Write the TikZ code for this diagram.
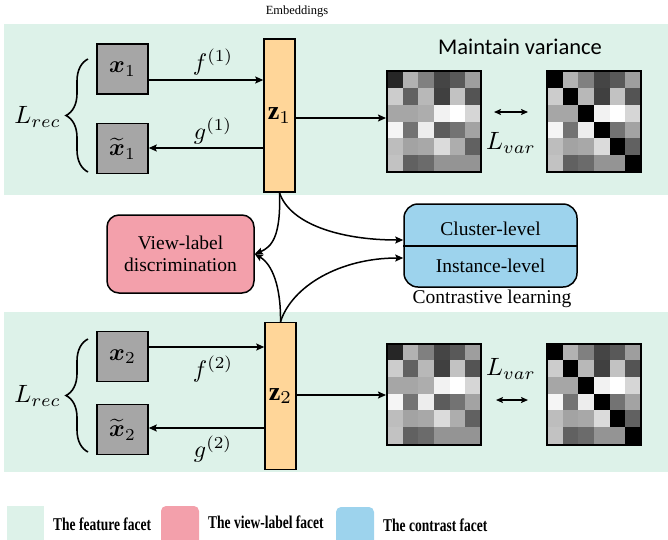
\documentclass[tikz,border=0pt]{standalone}
\usepackage{amsmath}
\usepackage{fontspec}
\setmainfont{Liberation Serif}
\newfontfamily\calfont{Carlito}
\usetikzlibrary{arrows.meta,decorations.pathreplacing}

\definecolor{featgreen}{RGB}{221,242,233}
\definecolor{viewpink}{RGB}{243,160,171}
\definecolor{contrblue}{RGB}{157,211,237}
\definecolor{zorange}{RGB}{255,214,153}
\definecolor{xgray}{RGB}{166,166,166}

\newcommand\fsz[2]{\fontsize{#1}{#2}\selectfont}
% math set at 10pt and enlarged as a whole
\newcommand\bigmath[2]{\scalebox{#1}{$#2$}}

% 6x6 grey-level map; #1,#2 = top-left corner, #3 = 1 turns the diagonal black
\newcommand\heatcells[3]{%
  \foreach \cellrow [count=\i from 0] in {{15,70,50,27,35,62},{80,38,72,25,76,33},{65,65,68,95,100,84},{96,45,93,36,45,64},{74,64,66,86,68,38},{76,38,42,58,58,58}}{%
    \foreach \v [count=\j from 0] in \cellrow {%
      \ifnum#3=1 \ifnum\i=\j \def\v{0}\fi\fi
      \fill[white!\v!black] ({#1+\j*15.667},{#2+\i*16.833}) rectangle ++(15.9,17.05);
    }%
  }%
}

\begin{document}
\begin{tikzpicture}[x=1pt,y=-1pt,
  inbox/.style={draw, line width=1.5pt, fill=xgray, minimum width=51pt, minimum height=50pt, inner sep=0pt},
  zbar/.style={draw, line width=1.5pt, fill=zorange, minimum width=31pt, inner sep=0pt},
  arr/.style={line width=1.5pt, -{Stealth[length=8pt,width=7pt,inset=1.5pt]}},
  darr/.style={line width=1.5pt, {Stealth[length=7pt,width=6pt,inset=1.5pt]}-{Stealth[length=7pt,width=6pt,inset=1.5pt]}},
  mlabel/.style={inner sep=0pt},
  heatframe/.style={draw, line width=2pt, minimum width=94pt, minimum height=101pt, inner sep=0pt},
  curly/.style={decorate, decoration={brace, amplitude=22pt}, line width=1.6pt},
  vlbox/.style={draw, line width=1.5pt, fill=viewpink, rounded corners=12pt, minimum width=147pt, minimum height=78pt, align=center, font=\fsz{19.5}{22}},
  clbox/.style={draw, line width=1.5pt, fill=contrblue, rounded corners=14pt, minimum width=173pt, minimum height=83pt},
  serif20/.style={font=\fsz{19.5}{22}, inner sep=0pt},
  legtext/.style={font=\bfseries\fsz{18}{20}, anchor=west, inner sep=0pt},
]
\useasboundingbox (0,0) rectangle (668,539);
\clip (0,0) rectangle (668,539);

% feature facet bands
\fill[featgreen] (4,24) rectangle (668,195);
\fill[featgreen] (4,312) rectangle (668,472);

\node[font=\fsz{12.5}{14}, inner sep=0pt] (emb) at (297,12) {Embeddings};
\node[font=\calfont\fsz{22.5}{26}, inner sep=0pt] (mv) at (520,47) {Maintain variance};

% ---------- view 1 ----------
\node[inbox] (x1) at (122.5,69) {\bigmath{2.4}{\boldsymbol{x}_1}};
\node[inbox] (xt1) at (122.5,148.5) {\bigmath{2.4}{\widetilde{\boldsymbol{x}}_1}};
\node[zbar, minimum height=153pt] (z1) at (279.5,115.5) {\bigmath{2.6}{\mathbf{z}_1}};

\draw[arr] (x1.east |- 0,80) -- (z1.west |- 0,80);
\draw[arr] (z1.west |- 0,148) -- (xt1.east |- 0,148);
\node[mlabel] (f1) at (213,62) {\bigmath{2.4}{f^{(1)}}};
\node[mlabel] (g1) at (213,131) {\bigmath{2.4}{g^{(1)}}};

\coordinate (br1a) at (88,172);
\coordinate (br1b) at (88,59);
\draw[curly] (br1a) -- (br1b);
\node[mlabel, anchor=east] (lr1) at (61,117) {\bigmath{2.5}{L_{rec}}};

\heatcells{387}{71}{0}
\node[heatframe] (m1) at (434,121.5) {};
\heatcells{547}{71}{1}
\node[heatframe] (m2) at (594,121.5) {};
\draw[arr] (z1.east |- 0,118) -- (m1.west |- 0,118);
\coordinate (va1) at (494,112);
\coordinate (vb1) at (528,112);
\draw[darr] (va1) -- (vb1);
\node[mlabel] (lv1) at (511,143) {\bigmath{2.5}{L_{var}}};

% ---------- shared heads ----------
\node[vlbox] (vl) at (180.5,254) {View-label\\discrimination};
\node[clbox] (cl) at (490.5,245.5) {};
\draw[line width=2pt] (cl.west) -- (cl.east);
\node[serif20] (clu) at (490.5,229) {Cluster-level};
\node[serif20] (ins) at (490.5,266) {Instance-level};
\node[serif20] (ctr) at (492,299) {Contrastive learning};

% ---------- view 2 ----------
\node[inbox] (x2) at (122.5,356.5) {\bigmath{2.4}{\boldsymbol{x}_2}};
\node[inbox] (xt2) at (122.5,429.5) {\bigmath{2.4}{\widetilde{\boldsymbol{x}}_2}};
\node[zbar, minimum height=147pt] (z2) at (280.5,396) {\bigmath{2.6}{\mathbf{z}_2}};

\draw[arr] (x2.east |- 0,347) -- (z2.west |- 0,347);
\draw[arr] (z2.west |- 0,428) -- (xt2.east |- 0,428);
\node[mlabel] (f2) at (213,369) {\bigmath{2.4}{f^{(2)}}};
\node[mlabel] (g2) at (213,449) {\bigmath{2.4}{g^{(2)}}};

\coordinate (br2a) at (88,452);
\coordinate (br2b) at (88,339);
\draw[curly] (br2a) -- (br2b);
\node[mlabel, anchor=east] (lr2) at (61,396) {\bigmath{2.5}{L_{rec}}};

\heatcells{387}{343}{0}
\node[heatframe] (m3) at (434,394) {};
\heatcells{547}{343}{1}
\node[heatframe] (m4) at (594,394) {};
\draw[arr] (z2.east |- 0,395) -- (m3.west |- 0,395);
\coordinate (va2) at (496,400);
\coordinate (vb2) at (528,400);
\draw[darr] (va2) -- (vb2);
\node[mlabel] (lv2) at (511,369) {\bigmath{2.5}{L_{var}}};

% ---------- links from the embeddings to the heads ----------
\draw[arr] (z1.south) .. controls (281,236) and (272,247) .. (vl.east);
\draw[arr] (z1.south) .. controls (290,224) and (340,240) .. (cl.west |- 0,240);
\draw[arr] (z2.north) .. controls (281,286) and (272,264) .. (vl.east);
\draw[arr] (z2.north) .. controls (292,286) and (340,258) .. (cl.west |- 0,258);

% ---------- legend ----------
\fill[featgreen] (7,506) rectangle (44,548);
\fill[viewpink, rounded corners=5pt] (161,506) rectangle (199,548);
\fill[contrblue, rounded corners=5pt] (336,507) rectangle (374,548);
\node[legtext] (lg1) at (53,524) {\scalebox{0.75}[1]{The feature facet}};
\node[legtext] (lg2) at (208,522) {\scalebox{0.75}[1]{The view-label facet}};
\node[legtext] (lg3) at (383,525) {\scalebox{0.75}[1]{The contrast facet}};
\end{tikzpicture}
\end{document}
